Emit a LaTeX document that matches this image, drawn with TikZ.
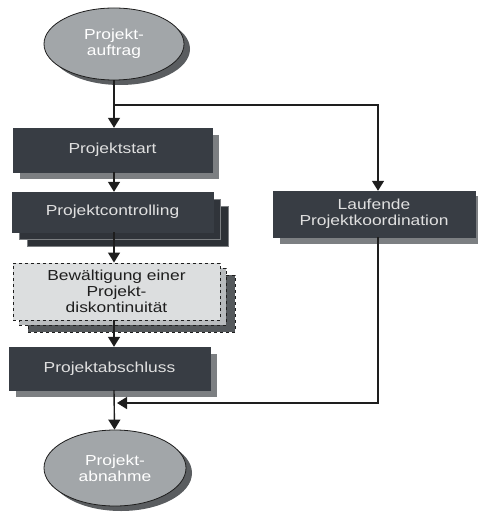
\documentclass[tikz,border=0pt]{standalone}
\usepackage{fontspec}
\setmainfont{Liberation Sans}[FakeStretch=1.2]
\usetikzlibrary{arrows.meta,shapes.geometric,shadows}

\definecolor{boxfill}{HTML}{383D44}
\definecolor{boxshade}{HTML}{7C7F82}
\definecolor{ellfill}{HTML}{A2A6A9}
\definecolor{ellshade}{HTML}{5A5D60}
\definecolor{lightfill}{HTML}{DCDEDF}
\definecolor{lightmid}{HTML}{B9BCBE}
\definecolor{lightshade}{HTML}{55595C}
\definecolor{linecol}{HTML}{1E1E1E}

\begin{document}
\begin{tikzpicture}[x=1pt,y=-1pt,
  font=\fontsize{14.5}{16}\selectfont,
  ell/.style={ellipse, draw=linecol, line width=0.8pt, fill=ellfill,
    text=white, align=center, inner sep=0pt,
    general shadow={fill=ellshade, shadow xshift=6pt, shadow yshift=-5pt}},
  box/.style={rectangle, draw=boxfill, fill=boxfill, text=white!88!black,
    align=center, inner sep=0pt,
    general shadow={fill=boxshade, shadow xshift=7pt, shadow yshift=-7pt}},
  stackbox/.style={rectangle, draw=boxfill, fill=boxfill, text=white!88!black,
    align=center, inner sep=0pt,
    general shadow={fill=boxfill!80!black, draw=boxshade, shadow xshift=15pt, shadow yshift=-14pt},
    general shadow={fill=boxfill!85!black, draw=boxshade, shadow xshift=7pt, shadow yshift=-7pt}},
  dashbox/.style={rectangle, draw=linecol, dashed, line width=0.9pt, fill=lightfill,
    text=linecol, align=center, inner sep=0pt,
    general shadow={fill=lightshade, draw=linecol, dashed, shadow xshift=15pt, shadow yshift=-12pt},
    general shadow={fill=lightmid, draw=linecol, dashed, shadow xshift=6pt, shadow yshift=-5pt}},
  flow/.style={draw=linecol, line width=1.4pt, -{Triangle[width=12pt,length=10pt]}},
  link/.style={draw=linecol, line width=1.4pt}]
\useasboundingbox (0,0) rectangle (477,516);

% start and end events
\node[ell, minimum width=140pt, minimum height=72pt] (auftrag) at (114,44) {Projekt-\\auftrag};
\node[ell, minimum width=142pt, minimum height=76pt] (abnahme) at (115,468) {Projekt-\\abnahme};

% project phases
\node[box, minimum width=199pt, minimum height=44pt] (start) at (112.5,150) {Projektstart};
\node[stackbox, minimum width=201pt, minimum height=40pt] (ctrl) at (112.5,212) {Projektcontrolling};
\node[dashbox, minimum width=207pt, minimum height=57pt] (bew) at (116.5,291.5)
  {Bewältigung einer\\Projekt-\\diskontinuität};
\node[box, minimum width=201pt, minimum height=43pt] (absch) at (109.5,368.5) {Projektabschluss};

% parallel coordination track
\node[box, minimum width=202pt, minimum height=46pt,
  general shadow={fill=boxshade, shadow xshift=7pt, shadow yshift=-5pt}] (lauf) at (374,214)
  {Laufende\\Projektkoordination};

% connector helper points
\coordinate (fork) at (114,105);
\coordinate (corner) at (378,105);
\coordinate (join) at (117,403);

% connectors
\draw[flow] (auftrag) -- (start.north -| auftrag);
\draw[flow] (fork) -| (lauf.north -| corner);
\draw[flow] (start.south -| auftrag) -- (ctrl.north -| auftrag);
\draw[flow] (ctrl.south -| auftrag) -- (bew.north -| auftrag);
\draw[flow] (bew.south -| auftrag) -- (absch.north -| auftrag);
\draw[flow] (absch.south -| auftrag) -- (abnahme);
\draw[flow] (lauf.south -| corner) |- (join);
\end{tikzpicture}
\end{document}
